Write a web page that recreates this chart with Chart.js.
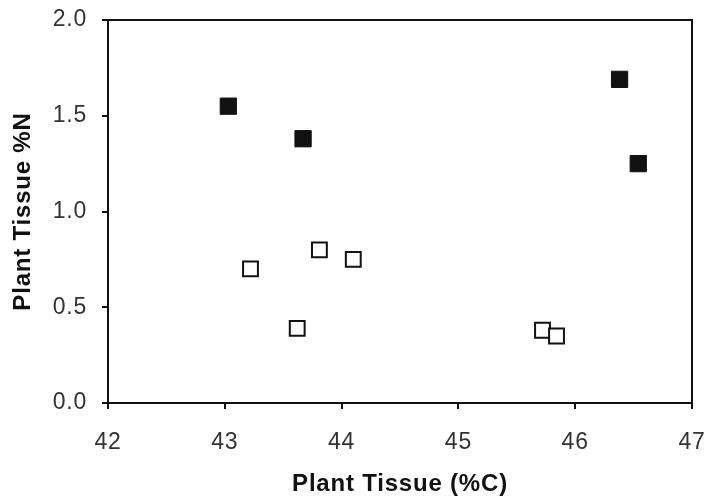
<!DOCTYPE html>
<html>
<head>
<meta charset="utf-8">
<script src="https://cdn.jsdelivr.net/npm/chart.js@4/dist/chart.umd.min.js"></script>
<style>
  html, body { margin: 0; padding: 0; background: #fff; }
  #wrap { width: 709px; height: 502px; }
</style>
</head>
<body>
<div id="wrap"><canvas id="myChart" width="709" height="502"></canvas></div>
<script>
// tissue carbon (%C) vs tissue nitrogen (%N)
const filledC = [43.03, 43.67, 46.38, 46.54];
const filledN = [1.55, 1.38, 1.69, 1.25];
const openC = [43.22, 43.62, 43.81, 44.10, 45.72, 45.84];
const openN = [0.70, 0.39, 0.80, 0.75, 0.38, 0.35];

const xTicks = [42, 43, 44, 45, 46, 47];
const yTicks = [0.0, 0.5, 1.0, 1.5, 2.0];

function toPoints(xs, ys) {
    return xs.map((x, i) => ({ x: x, y: ys[i] }));
}

// slightly wider lettering for all canvas text (canvas resize resets it, so set it again each pass)
const spacing = {
    id: 'spacing',
    beforeUpdate(chart) { chart.ctx.letterSpacing = '0.8px'; },
    beforeDraw(chart) { chart.ctx.letterSpacing = '0.8px'; }
};

// box round the plot area
const frame = {
    id: 'frame',
    afterDraw(chart) {
        const a = chart.chartArea;
        const ctx = chart.ctx;
        ctx.save();
        ctx.strokeStyle = '#111';
        ctx.lineWidth = 2;
        ctx.strokeRect(a.left, a.top, a.right - a.left, a.bottom - a.top);
        ctx.restore();
    }
};

const ctx = document.getElementById('myChart').getContext('2d');
new Chart(ctx, {
    type: 'scatter',
    data: {
        datasets: [{
            data: toPoints(filledC, filledN),
            pointStyle: 'rect',
            pointRadius: 11.5,
            pointHoverRadius: 11.5,
            backgroundColor: '#111',
            borderColor: '#111',
            borderWidth: 1
        }, {
            data: toPoints(openC, openN),
            pointStyle: 'rect',
            pointRadius: 10.5,
            pointHoverRadius: 10.5,
            backgroundColor: '#fff',
            borderColor: '#111',
            borderWidth: 2
        }]
    },
    options: {
        responsive: false,
        animation: false,
        layout: { padding: { top: 20, right: 17, left: 0, bottom: 0 } },
        plugins: { legend: { display: false }, tooltip: { enabled: false } },
        scales: {
            x: {
                type: 'linear',
                min: 42,
                max: 47,
                afterBuildTicks: (s) => { s.ticks = xTicks.map(v => ({ value: v })); },
                afterFit: (s) => { s.height = 99; s.paddingLeft = 0; s.paddingRight = 0; },
                grid: { drawOnChartArea: false, drawTicks: true, tickLength: 6, tickColor: '#111', lineWidth: 2 },
                border: { display: true, color: '#111', width: 2 },
                ticks: {
                    padding: 20,
                    color: '#333',
                    font: { family: 'Liberation Sans, Arial', size: 23 },
                    callback: (v) => v
                },
                title: {
                    display: true,
                    text: 'Plant Tissue (%C)',
                    color: '#111',
                    padding: { top: 0, bottom: 3 },
                    font: { family: 'Liberation Sans, Arial', size: 24, weight: 'bold' }
                }
            },
            y: {
                type: 'linear',
                min: 0,
                max: 2,
                afterBuildTicks: (s) => { s.ticks = yTicks.map(v => ({ value: v })); },
                afterFit: (s) => { s.width = 108; s.paddingTop = 0; s.paddingBottom = 0; },
                grid: { drawOnChartArea: false, drawTicks: true, tickLength: 6, tickColor: '#111', lineWidth: 2 },
                border: { display: true, color: '#111', width: 2 },
                ticks: {
                    padding: 15,
                    color: '#333',
                    font: { family: 'Liberation Sans, Arial', size: 23 },
                    callback: (v) => v.toFixed(1)
                },
                title: {
                    display: true,
                    text: 'Plant Tissue %N',
                    color: '#111',
                    padding: { top: 9, bottom: 0 },
                    font: { family: 'Liberation Sans, Arial', size: 24, weight: 'bold' }
                }
            }
        }
    },
    plugins: [spacing, frame]
});
</script>
</body>
</html>
